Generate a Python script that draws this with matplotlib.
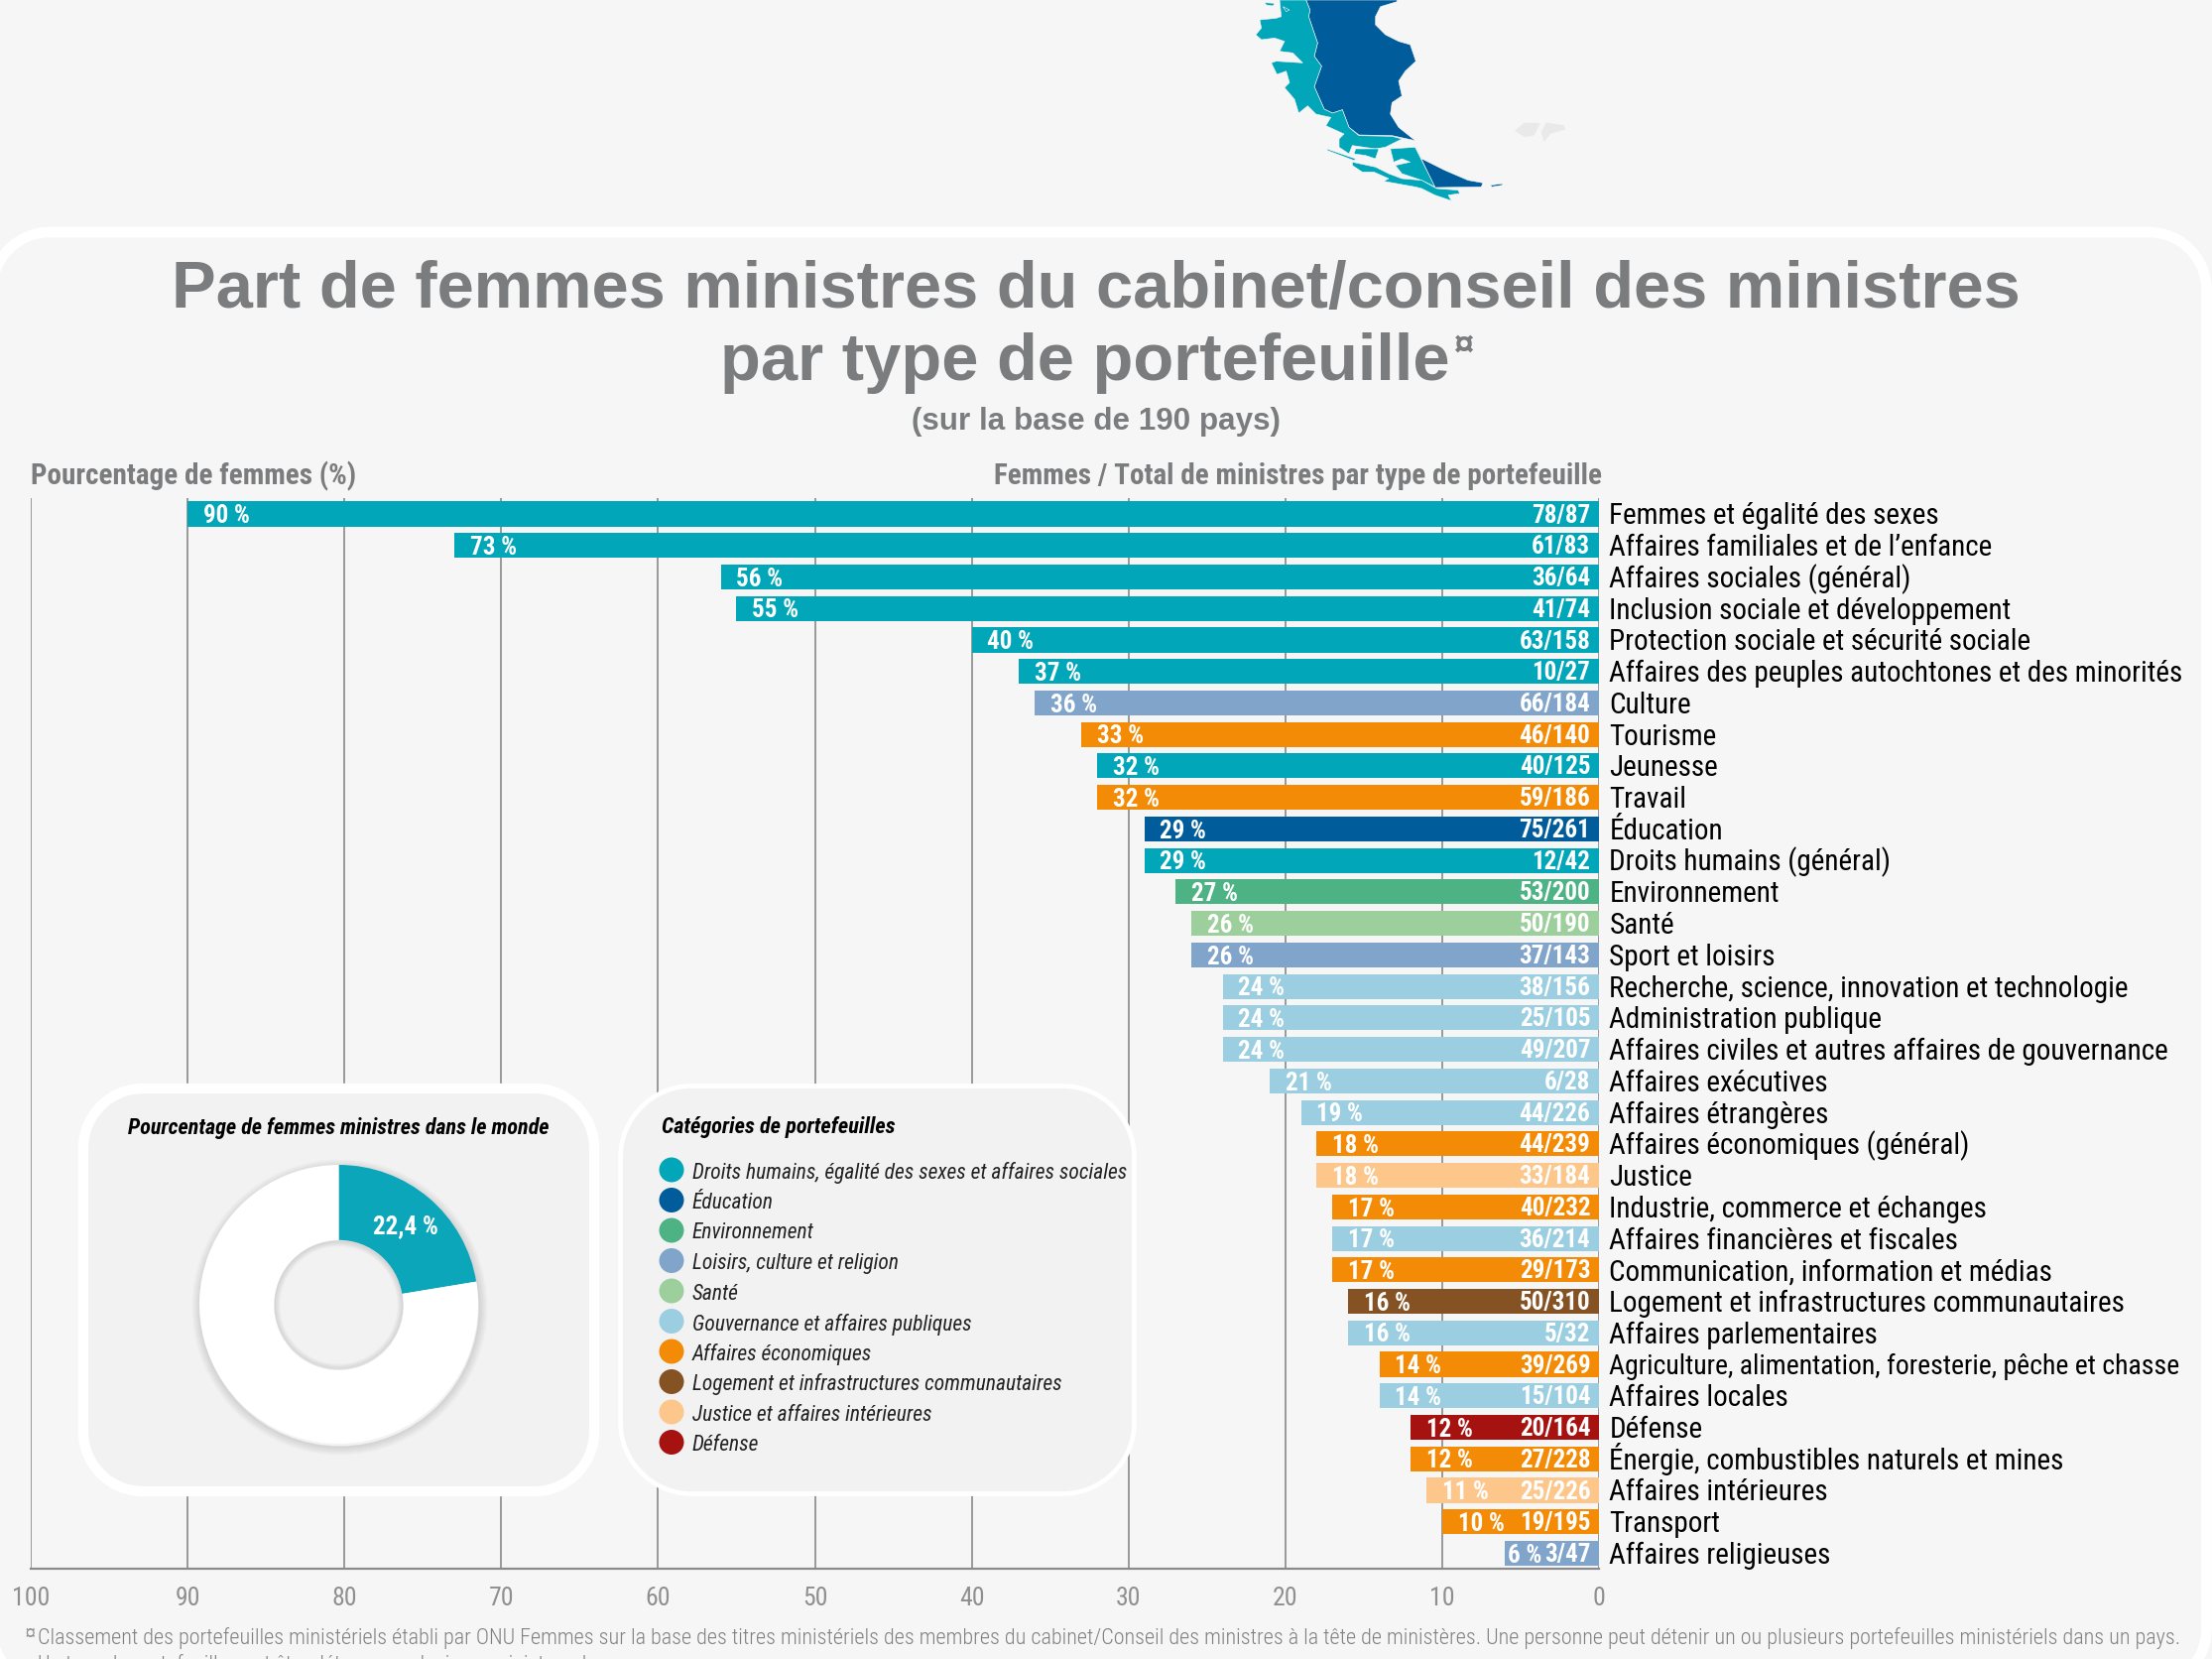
import matplotlib
matplotlib.use('Agg')
import matplotlib.pyplot as plt
from matplotlib.path import Path
from matplotlib.patches import PathPatch, Circle, Polygon

portfolios = ['Femmes et égalité des sexes', 'Affaires familiales et de l’enfance', 'Affaires sociales (général)',
	'Inclusion sociale et développement', 'Protection sociale et sécurité sociale',
	'Affaires des peuples autochtones et des minorités', 'Culture', 'Tourisme', 'Jeunesse', 'Travail', 'Éducation',
	'Droits humains (général)', 'Environnement', 'Santé', 'Sport et loisirs',
	'Recherche, science, innovation et technologie', 'Administration publique',
	'Affaires civiles et autres affaires de gouvernance', 'Affaires exécutives', 'Affaires étrangères',
	'Affaires économiques (général)', 'Justice', 'Industrie, commerce et échanges', 'Affaires financières et fiscales',
	'Communication, information et médias', 'Logement et infrastructures communautaires', 'Affaires parlementaires',
	'Agriculture, alimentation, foresterie, pêche et chasse', 'Affaires locales', 'Défense',
	'Énergie, combustibles naturels et mines', 'Affaires intérieures', 'Transport', 'Affaires religieuses']
percent = [90, 73, 56, 55, 40, 37, 36, 33, 32, 32, 29, 29, 27, 26, 26, 24, 24, 24, 21, 19, 18, 18, 17, 17, 17, 16, 16,
	14, 14, 12, 12, 11, 10, 6]
counts = ['78/87', '61/83', '36/64', '41/74', '63/158', '10/27', '66/184', '46/140', '40/125', '59/186', '75/261',
	'12/42', '53/200', '50/190', '37/143', '38/156', '25/105', '49/207', '6/28', '44/226', '44/239', '33/184', '40/232',
	'36/214', '29/173', '50/310', '5/32', '39/269', '15/104', '20/164', '27/228', '25/226', '19/195', '3/47']
# index into categories
bar_cat = [0, 0, 0, 0, 0, 0, 3, 6, 0, 6, 1, 0, 2, 4, 3, 5, 5, 5, 5, 5, 6, 8, 6, 5, 6, 7, 5, 6, 5, 9, 6, 8, 6, 3]

categories = ['Droits humains, égalité des sexes et affaires sociales', 'Éducation', 'Environnement',
	'Loisirs, culture et religion', 'Santé', 'Gouvernance et affaires publiques', 'Affaires économiques',
	'Logement et infrastructures communautaires', 'Justice et affaires intérieures', 'Défense']
cat_colors = ['#02a6b9', '#005c9a', '#4eb384', '#81a4cb', '#9dcf9c', '#9acee0', '#f38b06', '#855223', '#fdc68b', '#a5120f']

world_share = [22.4, 77.6]
xtick_values = [0, 10, 20, 30, 40, 50, 60, 70, 80, 90, 100]

# map shapes, in pixels of the top-right crop
map_blue = [[(350, 0), (625, 0), (625, 5), (575, 20), (560, 50), (560, 75), (590, 105), (630, 125), (665, 135), (682, 185),
	(650, 215), (630, 245), (640, 290), (610, 310), (605, 345), (630, 385), (680, 425), (610, 410), (510, 408), (480, 385),
	(460, 332), (430, 342), (405, 330), (375, 262), (397, 200), (375, 170), (385, 130), (358, 50), (362, 30)],
	[(682, 445), (700, 480), (770, 515), (840, 545), (885, 553), (880, 565), (740, 567)],
	[(908, 560), (945, 555), (943, 560), (912, 565)]]
map_teal = [[(270, 0), (350, 0), (362, 30), (358, 50), (385, 130), (375, 170), (397, 200), (375, 262), (405, 330), (430, 342),
	(460, 332), (480, 385), (510, 410), (610, 412), (640, 420), (590, 445), (560, 450), (490, 440), (480, 465), (450, 445),
	(450, 420), (465, 405), (410, 380), (425, 355), (380, 345), (355, 320), (328, 342), (315, 300), (285, 265), (300, 250),
	(290, 215), (262, 225), (245, 190), (260, 185), (340, 190), (310, 160), (270, 155), (285, 125), (255, 115), (215, 120),
	(198, 105), (215, 85), (210, 60), (260, 55), (275, 50)],
	[(605, 450), (680, 445), (740, 565), (700, 545), (640, 525), (620, 500), (665, 490), (640, 480), (615, 490)],
	[(490, 490), (560, 505), (600, 525), (640, 540), (700, 545), (745, 570), (810, 575), (815, 585), (780, 590), (790, 607),
	(740, 590), (700, 570), (680, 565), (585, 548), (600, 540), (555, 520), (520, 520), (490, 500)],
	[(412, 450), (500, 480), (495, 485), (415, 455)],
	[(500, 450), (570, 450), (560, 480), (530, 470), (495, 465)],
	[(225, 8), (255, 10), (250, 18), (230, 15)], [(280, 20), (300, 30), (290, 35)]]
map_grey = [[(980, 395), (1010, 370), (1060, 372), (1040, 410), (1010, 415)],
	[(1060, 400), (1075, 370), (1130, 378), (1135, 392), (1090, 405), (1070, 430)]]

W, H = 2230, 1672
BG = '#f6f6f6'
GREY = '#7b7c7e'
COND = ['Roboto Condensed', 'Liberation Sans', 'DejaVu Sans']
PLAIN = ['Liberation Sans', 'DejaVu Sans']


def round_box(x0, y0, x1, y1, r, **kw):
	c = r * 0.45
	verts = [(x0 + r, y0), (x1 - r, y0), (x1 - c, y0), (x1, y0 + c), (x1, y0 + r), (x1, y1 - r), (x1, y1 - c), (x1 - c, y1),
		(x1 - r, y1), (x0 + r, y1), (x0 + c, y1), (x0, y1 - c), (x0, y1 - r), (x0, y0 + r), (x0, y0 + c), (x0 + c, y0),
		(x0 + r, y0), (x0 + r, y0)]
	codes = [Path.MOVETO, Path.LINETO, Path.CURVE4, Path.CURVE4, Path.CURVE4, Path.LINETO, Path.CURVE4, Path.CURVE4, Path.CURVE4,
		Path.LINETO, Path.CURVE4, Path.CURVE4, Path.CURVE4, Path.LINETO, Path.CURVE4, Path.CURVE4, Path.CURVE4, Path.CLOSEPOLY]
	return PathPatch(Path(verts, codes), **kw)


fig = plt.figure(figsize=(W / 100, H / 100), dpi=100, facecolor=BG)

# page level layer in pixel coordinates
bg = fig.add_axes([0, 0, 1, 1], zorder=0)
bg.set_xlim(0, W)
bg.set_ylim(H, 0)
bg.axis('off')

for shapes, col in [(map_blue, '#005c9a'), (map_teal, '#02a6b9'), (map_grey, '#e9e9e9')]:
	for pts in shapes:
		bg.add_patch(Polygon([(1200 + x / 3, y / 3) for x, y in pts], closed=True, facecolor=col, edgecolor=BG, linewidth=0.4))

# filled on purpose, an unfilled path gets bent when it is clipped at the canvas edge
bg.add_patch(round_box(-8, 234, 2224.5, 1700, 58, facecolor=BG, edgecolor='white', linewidth=7.6))

bg.text(1105, 293, 'Part de femmes ministres du cabinet/conseil des ministres', family=PLAIN, fontsize=48.2, fontweight='bold',
	color=GREY, ha='center', va='center')
bg.text(1094, 366, 'par type de portefeuille', family=PLAIN, fontsize=48.2, fontweight='bold', color=GREY, ha='center', va='center')
bg.text(1466, 349, '¤', family=PLAIN, fontsize=26, fontweight='bold', color=GREY, ha='left', va='center')
bg.text(1105, 425, '(sur la base de 190 pays)', family=PLAIN, fontsize=22.6, fontweight='bold', color=GREY, ha='center', va='center')
bg.text(31, 480, 'Pourcentage de femmes (%)', family=COND, fontsize=21, fontweight='bold', color=GREY, ha='left', va='center')
bg.text(1615, 480, 'Femmes / Total de ministres par type de portefeuille', family=COND, fontsize=21, fontweight='bold',
	color=GREY, ha='right', va='center')

bg.text(25, 1646, '¤', family=COND, fontsize=10, fontweight='bold', color='#8f8f8f', ha='left', va='center')
bg.text(38, 1651, 'Classement des portefeuilles ministériels établi par ONU Femmes sur la base des titres ministériels des membres du cabinet/Conseil des ministres à la tête de ministères. Une personne peut détenir un ou plusieurs portefeuilles ministériels dans un pays.',
	family=COND, fontsize=15.9, fontweight='light', color='#808080', ha='left', va='center')
bg.text(38, 1678, 'Un type de portefeuille peut être détenu par plusieurs ministres dans un pays.',
	family=COND, fontsize=15.9, fontweight='light', color='#808080', ha='left', va='center')

# main chart
ax = fig.add_axes([31 / W, (H - 1580.7) / H, (1612 - 31) / W, (1580.7 - 502) / H], zorder=1)
ax.patch.set_alpha(0)
ax.set_xlim(100, 0)
ax.set_ylim(33.48, -0.504)
ax.set_yticks([])
ax.set_xticks(xtick_values)
ax.set_axisbelow(True)
ax.grid(axis='x', color='#808080', linewidth=1.1)
for s in ['top', 'left', 'right']:
	ax.spines[s].set_visible(False)
ax.spines['bottom'].set_color('#8a8a8a')
ax.spines['bottom'].set_linewidth(1.6)
ax.tick_params(axis='x', length=0, pad=13, labelsize=18.5, labelcolor='#8f8f8f')
for t in ax.get_xticklabels():
	t.set_family(COND)

rows = list(range(len(portfolios)))
ax.barh(rows, percent, height=0.79, color=[cat_colors[c] for c in bar_cat])

for i in rows:
	off = 0.2 if percent[i] < 8 else 1.0
	ax.text(percent[i] - off, i + 0.29, '%d %%' % percent[i], family=COND, fontsize=18, fontweight='bold',
		color='white', ha='left', va='baseline')
	ax.text(0.55, i + 0.27, counts[i], family=COND, fontsize=18, fontweight='bold', color='white', ha='right', va='baseline')
	# the long agriculture label is set tighter in the original
	size = 20 if portfolios[i].startswith('Agriculture') else 21
	ax.text(-0.65, i + 0.33, portfolios[i], family=COND, fontsize=size, color='black', ha='left', va='baseline', clip_on=False)

# boxes over the chart
top = fig.add_axes([0, 0, 1, 1], zorder=2)
top.patch.set_alpha(0)
top.set_xlim(0, W)
top.set_ylim(H, 0)
top.axis('off')

top.add_patch(round_box(84, 1097, 599, 1503, 60, facecolor='#f2f2f2', edgecolor='white', linewidth=7.4))
top.add_patch(round_box(625.5, 1094.5, 1143.5, 1505.5, 72, facecolor='#f2f2f2', edgecolor='white', linewidth=3.4))

top.text(341, 1137, 'Pourcentage de femmes ministres dans le monde', family=COND, fontsize=15.9, fontweight='bold',
	style='italic', color='black', ha='center', va='center')
top.text(667, 1136, 'Catégories de portefeuilles', family=COND, fontsize=16, fontweight='bold', style='italic',
	color='black', ha='left', va='center')

for i in range(len(categories)):
	yy = 1179 + i * 30.5
	top.add_patch(Circle((677, yy), 12.5, facecolor=cat_colors[i], edgecolor='none'))
	top.text(698, yy + 3, categories[i], family=COND, fontsize=15.5, style='italic', color='#222222', ha='left', va='center')

# donut, axes in pixels around its centre
R = 140.5
RIN = 64.7
pad = 175
pie_ax = fig.add_axes([(341.5 - pad) / W, (H - 1314.5 - pad) / H, 2 * pad / W, 2 * pad / H], zorder=3)
pie_ax.patch.set_alpha(0)
for k in range(9):
	pie_ax.add_patch(Circle((1, -3), R + 8 - k, fill=False, edgecolor='#666666', linewidth=0.9, alpha=0.02 + 0.02 * k))
pie_ax.pie(world_share, colors=['#0ba6ba', 'white'], startangle=90, counterclock=False, radius=R,
	wedgeprops={'width': R - RIN, 'linewidth': 0})
for k in range(6):
	pie_ax.add_patch(Circle((0, -1), RIN - k, fill=False, edgecolor='#666666', linewidth=0.9, alpha=0.18 - 0.03 * k))
pie_ax.set_xlim(-pad, pad)
pie_ax.set_ylim(-pad, pad)
pie_ax.set_aspect('equal')
pie_ax.text(67, 78, '22,4 %', family=COND, fontsize=18, fontweight='bold', color='white', ha='center', va='center')

fig.savefig('out.png', dpi=100, facecolor=BG)
